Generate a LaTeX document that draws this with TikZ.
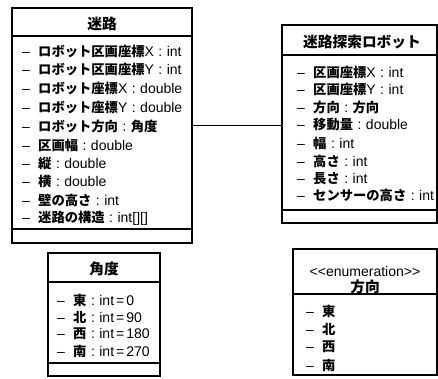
\documentclass[tikz,border=0pt]{standalone}
\usepackage{fontspec}
\setmainfont{Liberation Sans}
\newfontfamily\jp{Noto Sans CJK JP}[Scale=0.95]
\newcommand\J[1]{{\jp\bfseries #1}}
\newcommand\cl{\hspace{4.5pt}:\hspace{4.5pt}}
\newcommand\eqs{\hspace{2pt}=\hspace{2pt}}
\newcommand\dsh{\makebox[16pt][l]{–}}
\tikzset{
  cls/.style={draw, line width=1.3pt, anchor=north west, inner sep=0pt, outer sep=0pt, fill=white},
  attr/.style={anchor=west, inner sep=0pt, font=\fontsize{14}{16}\selectfont},
  ttl/.style={anchor=center, inner sep=0pt, font=\fontsize{15.5}{18}\selectfont},
  stereo/.style={anchor=center, inner sep=0pt, font=\fontsize{14}{16}\selectfont},
  sep/.style={line width=1.3pt},
  conn/.style={line width=1pt}
}
\begin{document}
\begin{tikzpicture}[x=1pt,y=-1pt]
\useasboundingbox (0,0) rectangle (438,378);
% ---- 迷路 ----
\node[cls, minimum width=180pt, minimum height=235pt] (maze) at (12,8) {};
\node[ttl] (mazeT) at (102,24) {\J{迷路}};
\draw[sep] (12,36) -- (192,36);
\draw[sep] (12,229) -- (192,229);
\node[attr] (m1) at (22,52) {\dsh\J{ロボット区画座標}X\cl int};
\node[attr] (m2) at (22,70) {\dsh\J{ロボット区画座標}Y\cl int};
\node[attr] (m3) at (22,89) {\dsh\J{ロボット座標}X\cl double};
\node[attr] (m4) at (22,108) {\dsh\J{ロボット座標}Y\cl double};
\node[attr] (m5) at (22,126) {\dsh\J{ロボット方向}\cl\J{角度}};
\node[attr] (m6) at (22,145) {\dsh\J{区画幅}\cl double};
\node[attr] (m7) at (22,163) {\dsh\J{縦}\cl double};
\node[attr] (m8) at (22,181.5) {\dsh\J{横}\cl double};
\node[attr] (m9) at (22,200) {\dsh\J{壁の高さ}\cl int};
\node[attr] (m10) at (22,218.5) {\dsh\J{迷路の構造}\cl int[][]};
% ---- 迷路探索ロボット ----
\node[cls, minimum width=155pt, minimum height=198pt] (robot) at (282,25) {};
\node[ttl] (robotT) at (362,42) {\J{迷路探索ロボット}};
\draw[sep] (282,55) -- (437,55);
\draw[sep] (282,210) -- (437,210);
\node[attr] (r1) at (297,72) {\dsh\J{区画座標}X\cl int};
\node[attr] (r2) at (297,89.5) {\dsh\J{区画座標}Y\cl int};
\node[attr] (r3) at (297,107) {\dsh\J{方向}\cl\J{方向}};
\node[attr] (r4) at (297,125) {\dsh\J{移動量}\cl double};
\node[attr] (r5) at (297,143) {\dsh\J{幅}\cl int};
\node[attr] (r6) at (297,161) {\dsh\J{高さ}\cl int};
\node[attr] (r7) at (297,178.5) {\dsh\J{長さ}\cl int};
\node[attr] (r8) at (297,195.5) {\dsh\J{センサーの高さ}\cl int};
% ---- connector ----
\draw[conn] (maze.east) -- (maze.east -| robot.west);
% ---- 角度 ----
\node[cls, minimum width=112pt, minimum height=123pt] (angle) at (48,253) {};
\node[ttl] (angleT) at (104,269) {\J{角度}};
\draw[sep] (48,282) -- (160,282);
\draw[sep] (48,363) -- (160,363);
\node[attr] (a1) at (57,300) {\dsh\J{東}\cl int\eqs 0};
\node[attr] (a2) at (57,317) {\dsh\J{北}\cl int\eqs 90};
\node[attr] (a3) at (57,334) {\dsh\J{西}\cl int\eqs 180};
\node[attr] (a4) at (57,351) {\dsh\J{南}\cl int\eqs 270};
% ---- 方向 ----
\node[cls, minimum width=144pt, minimum height=126pt] (dir) at (293,249) {};
\node[stereo] (dirS) at (365,271) {{<}{<}enumeration{>}{>}};
\node[ttl] (dirT) at (365,287) {\J{方向}};
\draw[sep] (293,294) -- (437,294);
\node[attr] (d1) at (306,311) {\dsh\J{東}};
\node[attr] (d2) at (306,329) {\dsh\J{北}};
\node[attr] (d3) at (306,347) {\dsh\J{西}};
\node[attr] (d4) at (306,365) {\dsh\J{南}};
\end{tikzpicture}
\end{document}
